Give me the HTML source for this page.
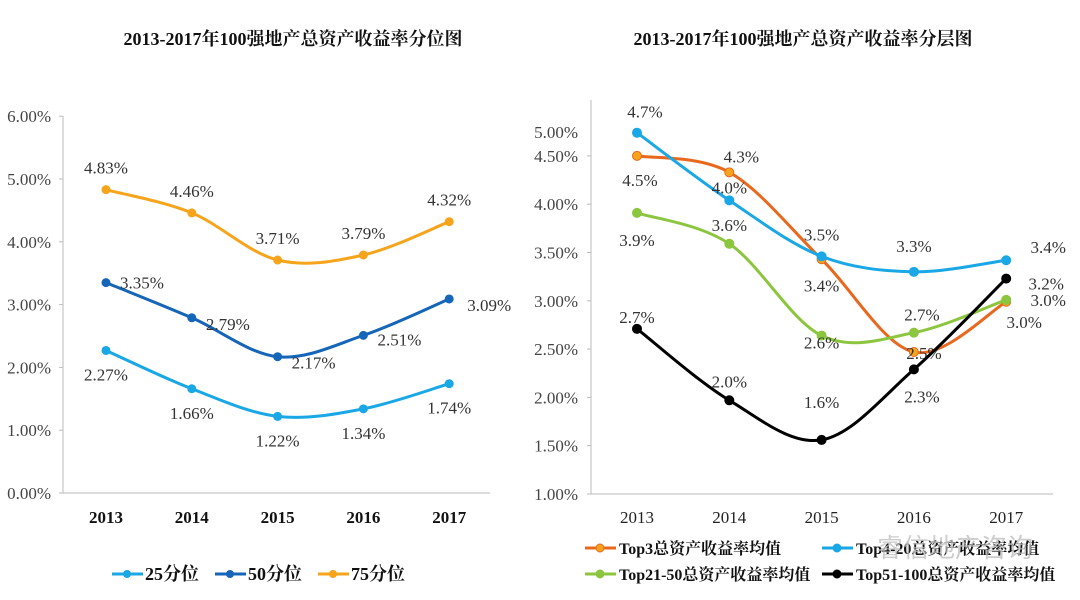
<!DOCTYPE html>
<html><head><meta charset="utf-8">
<style>
html,body{margin:0;padding:0;background:#fff;}
svg{display:block;font-family:"Liberation Serif","Noto Serif CJK SC",serif;}
</style></head>
<body>
<svg id="c" width="1080" height="600" viewBox="0 0 1080 600">
<text x="293" y="45" font-size="18" font-weight="bold" text-anchor="middle" fill="#111">2013-2017年100强地产总资产收益率分位图</text>
<text x="803" y="45" font-size="18" font-weight="bold" text-anchor="middle" fill="#111">2013-2017年100强地产总资产收益率分层图</text>
<g id="L"></g><g id="R"></g>
<text x="955" y="557" font-size="26" text-anchor="middle" fill="#bbb" opacity="0.75" font-family="Liberation Sans,Noto Sans CJK SC,sans-serif">睿信地产咨询</text>
</svg>
<script>
// ---- Left chart data ----
const years = ["2013","2014","2015","2016","2017"];
const p25 = [2.27,1.66,1.22,1.34,1.74];
const p50 = [3.35,2.79,2.17,2.51,3.09];
const p75 = [4.83,4.46,3.71,3.79,4.32];
const leftTicks = [0,1,2,3,4,5,6];
// ---- Right chart data ----
const top3 = [4.50,4.33,3.43,2.47,2.99];
const top4_20 = [4.74,4.04,3.46,3.30,3.42];
const top21_50 = [3.91,3.59,2.64,2.67,3.01];
const top51_100 = [2.71,1.97,1.56,2.29,3.23];
const top3Labels = ["4.5%","4.3%","3.4%","2.5%","3.0%"];
const top4_20Labels = ["4.7%","4.0%","3.5%","3.3%","3.4%"];
const top21_50Labels = ["3.9%","3.6%","2.6%","2.7%","3.0%"];
const top51_100Labels = ["2.7%","2.0%","1.6%","2.3%","3.2%"];
const rightTicks = [1.0,1.5,2.0,2.5,3.0,3.5,4.0,4.5,5.0];

const NS="http://www.w3.org/2000/svg";
function mk(parent,tag,attrs){const e=document.createElementNS(NS,tag);for(const k in attrs)e.setAttribute(k,attrs[k]);parent.appendChild(e);return e;}
function smooth(pts){let d=`M${pts[0][0]},${pts[0][1]}`;for(let i=0;i<pts.length-1;i++){const p0=pts[i-1]||pts[i],p1=pts[i],p2=pts[i+1],p3=pts[i+2]||p2;const t=6;d+=` C${p1[0]+(p2[0]-p0[0])/t},${p1[1]+(p2[1]-p0[1])/t} ${p2[0]-(p3[0]-p1[0])/t},${p2[1]-(p3[1]-p1[1])/t} ${p2[0]},${p2[1]}`;}return d;}

// Left axes
const L=document.getElementById('L');
const lx=i=>106+i*85.8, ly=v=>493-v*62.8;
mk(L,'line',{x1:63,y1:116,x2:63,y2:493,stroke:'#bbb','stroke-width':1});
mk(L,'line',{x1:63,y1:493,x2:490,y2:493,stroke:'#bbb','stroke-width':1});
leftTicks.forEach(v=>{mk(L,'line',{x1:59,y1:ly(v),x2:63,y2:ly(v),stroke:'#bbb'});
 const t=mk(L,'text',{x:51,y:ly(v)+6,'font-size':17,'text-anchor':'end',fill:'#444'});t.textContent=v.toFixed(2)+'%';
 
 });
years.forEach((y,i)=>{const t=mk(L,'text',{x:lx(i),y:523,'font-size':17,'font-weight':'bold','text-anchor':'middle',fill:'#111'});t.textContent=y;
 
 });
const lSeries=[
 {name:'p25',vals:p25,color:'#1aa7e6',off:[[0,24],[0,24],[0,24],[0,24],[0,24]]},
 {name:'p50',vals:p50,color:'#1565b8',off:[[36,0],[36,6],[36,6],[36,4],[40,6]]},
 {name:'p75',vals:p75,color:'#f5a41b',off:[[0,-22],[0,-22],[0,-22],[0,-22],[0,-22]]}];
lSeries.forEach(s=>{const pts=s.vals.map((v,i)=>[lx(i),ly(v)]);
 const p=mk(L,'path',{d:smooth(pts),fill:'none',stroke:s.color,'stroke-width':3});
 
 
 pts.forEach((q,i)=>{const c=mk(L,'circle',{cx:q[0],cy:q[1],r:4.5,fill:s.color});
  
  
  const t=mk(L,'text',{x:q[0]+s.off[i][0],y:q[1]+s.off[i][1]+6,'font-size':17,'text-anchor':'middle',fill:'#333'});t.textContent=s.vals[i].toFixed(2)+'%';
  
  });});
// Left legend
[['25分位','#1aa7e6',112],['50分位','#1565b8',215],['75分位','#f5a41b',318]].forEach(e=>{
 const g=mk(L,'g',{});
 
 
 mk(g,'line',{x1:e[2],y1:574,x2:e[2]+31,y2:574,stroke:e[1],'stroke-width':3});
 mk(g,'circle',{cx:e[2]+15,cy:574,r:4,fill:e[1]});
 const t=mk(g,'text',{x:e[2]+33,y:580,'font-size':18,'font-weight':'bold',fill:'#111'});t.textContent=e[0];});

// Right axes
const R=document.getElementById('R');
const rx=i=>637+i*92.3, ry=v=>494-(v-1)*96.6;
mk(R,'line',{x1:591,y1:100,x2:591,y2:494,stroke:'#bbb'});
mk(R,'line',{x1:591,y1:494,x2:1053,y2:494,stroke:'#bbb'});
rightTicks.forEach(v=>{const yy=v===5?132:ry(v);
 if(v!==5)mk(R,'line',{x1:587,y1:yy,x2:591,y2:yy,stroke:'#bbb'});
 const t=mk(R,'text',{x:578,y:yy+6,'font-size':17,'text-anchor':'end',fill:'#444'});t.textContent=v.toFixed(2)+'%';
 
 });
years.forEach((y,i)=>{const t=mk(R,'text',{x:rx(i),y:523,'font-size':17,'text-anchor':'middle',fill:'#222'});t.textContent=y;
 
 });
const rSeries=[
 {name:'top3',vals:top3,labels:top3Labels,color:'#e8691e',fill:'#f5a41b',off:[[3,24],[12,-16],[0,26],[10,1],[18,20]]},
 {name:'top4-20',vals:top4_20,labels:top4_20Labels,color:'#1aa7e6',fill:'#1aa7e6',off:[[8,-21],[0,-13],[0,-22],[0,-26],[42,-13]]},
 {name:'top21-50',vals:top21_50,labels:top21_50Labels,color:'#8cc63f',fill:'#8cc63f',off:[[0,27],[0,-19],[0,7],[8,-18],[42,0]]},
 {name:'top51-100',vals:top51_100,labels:top51_100Labels,color:'#000',fill:'#000',off:[[0,-12],[0,-19],[0,-38],[8,27],[40,5]]}];
rSeries.forEach(s=>{const pts=s.vals.map((v,i)=>[rx(i),ry(v)]);
 const p=mk(R,'path',{d:smooth(pts),fill:'none',stroke:s.color,'stroke-width':3});
 
 
 pts.forEach((q,i)=>{const c=mk(R,'circle',{cx:q[0],cy:q[1],r:4.5,fill:s.fill,stroke:s.color,'stroke-width':1});
  
  
  const t=mk(R,'text',{x:q[0]+s.off[i][0],y:q[1]+s.off[i][1]+6,'font-size':17,'text-anchor':'middle',fill:'#333'});t.textContent=s.labels[i];
  
  });});
// Right legend
[['Top3总资产收益率均值','#e8691e','#f5a41b',585,548],['Top4-20总资产收益率均值','#1aa7e6','#1aa7e6',822,548],['Top21-50总资产收益率均值','#8cc63f','#8cc63f',585,574],['Top51-100总资产收益率均值','#000','#000',822,574]].forEach(e=>{
 const g=mk(R,'g',{});
 
 
 mk(g,'line',{x1:e[3],y1:e[4],x2:e[3]+31,y2:e[4],stroke:e[1],'stroke-width':3});
 mk(g,'circle',{cx:e[3]+15,cy:e[4],r:4,fill:e[2],stroke:e[1]});
 const t=mk(g,'text',{x:e[3]+34,y:e[4]+6,'font-size':16,'font-weight':'bold',fill:'#111'});t.textContent=e[0];});
</script>
</body></html>
